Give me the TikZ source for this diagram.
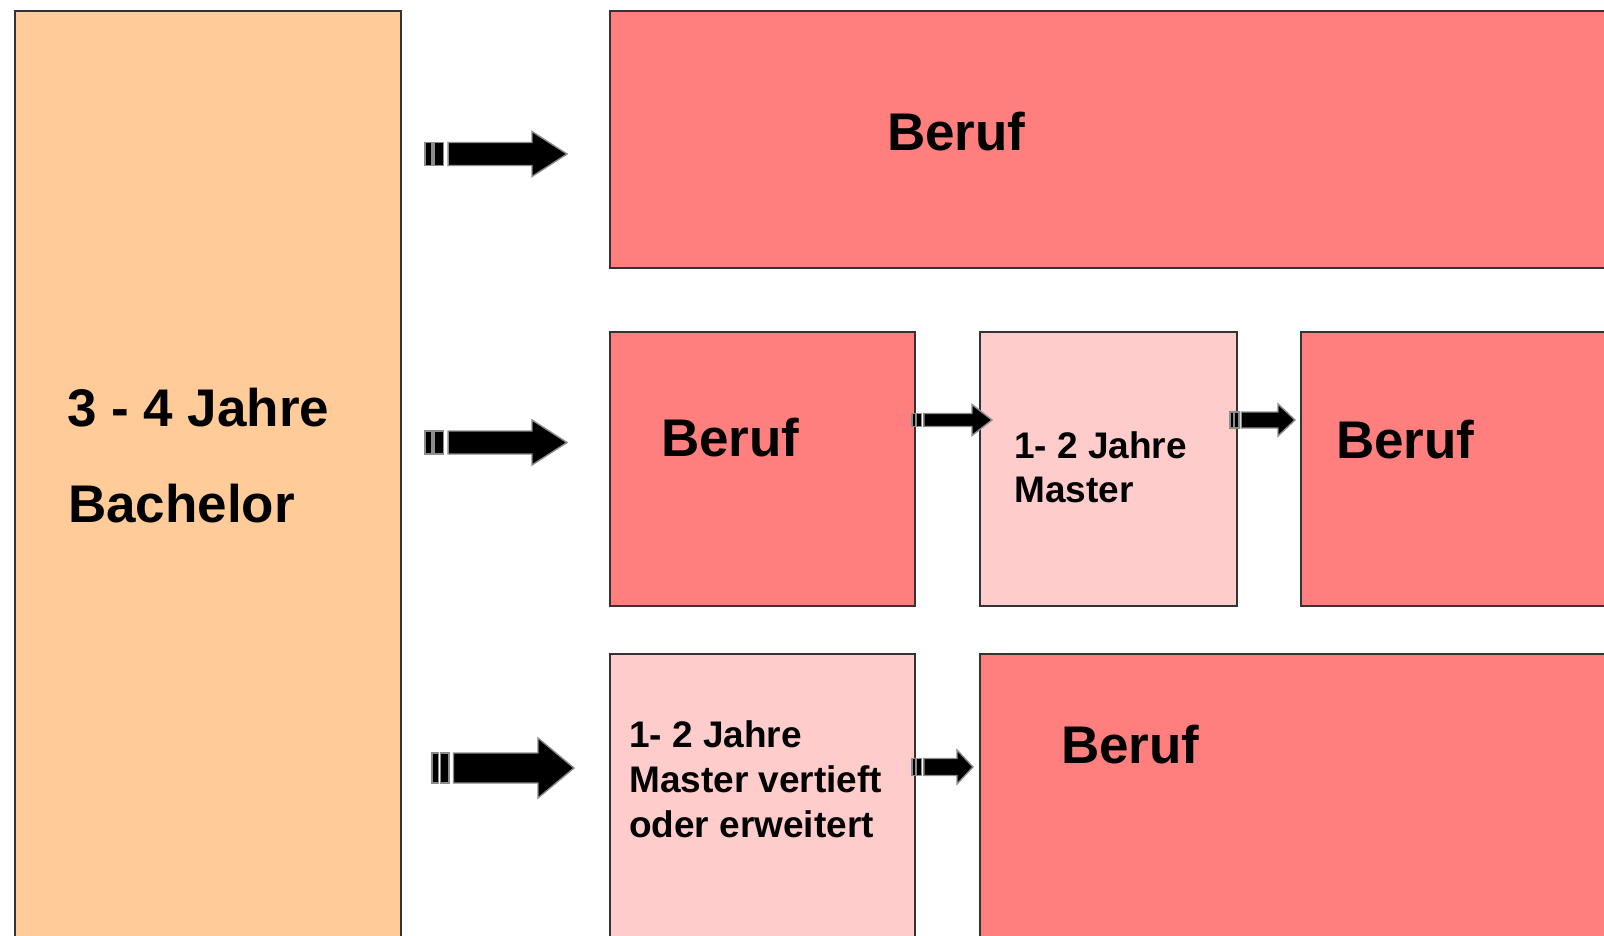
\documentclass[tikz,border=0pt]{standalone}
\usepackage{fontspec}
\setmainfont{Liberation Sans}
\definecolor{bachfill}{HTML}{FFCC99}
\definecolor{berufred}{HTML}{FF7F7F}
\definecolor{masterpink}{HTML}{FFCCCC}
\definecolor{edgegray}{HTML}{333333}
\definecolor{arrowedge}{HTML}{8C8C8C}
\newcommand\blockarrow[7]{%
  \draw[arrowpart] (#1,#2-#5) rectangle (#1+#7,#2+#5);
  \draw[arrowpart] (#1+1.3*#7,#2-#5) rectangle (#1+2.6*#7,#2+#5);
  \draw[arrowpart] (#1+3.3*#7,#2-#5) -- (#3,#2-#5) -- (#3,#2-#6) -- (#4,#2)
     -- (#3,#2+#6) -- (#3,#2+#5) -- (#1+3.3*#7,#2+#5) -- cycle;
}
\begin{document}
\begin{tikzpicture}[x=1pt,y=-1pt,
  box/.style={draw=edgegray,line width=1.8pt,anchor=north west,inner sep=0pt},
  bach/.style={box,fill=bachfill},
  beruf/.style={box,fill=berufred},
  master/.style={box,fill=masterpink},
  bigtxt/.style={anchor=base west,inner sep=0pt,font=\fontsize{53}{60}\selectfont\bfseries},
  smalltxt/.style={anchor=base west,inner sep=0pt,font=\fontsize{37}{44}\selectfont\bfseries},
  arrowpart/.style={fill=black,draw=arrowedge,line width=1.4pt,line join=miter}]
\useasboundingbox (0,0) rectangle (1604,935);
\clip (0,0) rectangle (1604,935);
\fill[white] (0,0) rectangle (1604,935);
% boxes
\node[bach,minimum width=386pt,minimum height=960pt] (bachelor) at (14,10) {};
\node[beruf,minimum width=1020pt,minimum height=257pt] (top) at (609,10) {};
\node[beruf,minimum width=305pt,minimum height=274pt] (r2a) at (609,331) {};
\node[master,minimum width=257pt,minimum height=274pt] (r2m) at (979,331) {};
\node[beruf,minimum width=320pt,minimum height=274pt] (r2b) at (1300,331) {};
\node[master,minimum width=305pt,minimum height=320pt] (r3m) at (609,653) {};
\node[beruf,minimum width=660pt,minimum height=320pt] (r3b) at (979,653) {};
% texts
\node[bigtxt] (t1) at (67,426) {3 - 4 Jahre};
\node[bigtxt] (t2) at (68,522) {Bachelor};
\node[bigtxt] (t3) at (887,150) {Beruf};
\node[bigtxt] (t4) at (661,456) {Beruf};
\node[bigtxt] (t5) at (1336,458) {Beruf};
\node[bigtxt] (t6) at (1061,763) {Beruf};
\node[smalltxt] (t7) at (1014,458) {1- 2 Jahre};
\node[smalltxt] (t8) at (1014,502) {Master};
\node[smalltxt] (t9) at (629,747) {1- 2 Jahre};
\node[smalltxt] (t10) at (629,792) {Master vertieft};
\node[smalltxt] (t11) at (629,837) {oder erweitert};
% arrows
\blockarrow{425}{154}{532}{567}{11.5}{22.5}{7}
\blockarrow{425}{442.5}{532}{567}{11.5}{22.5}{7}
\blockarrow{432}{768}{538}{574}{15}{30}{6.5}
\blockarrow{912}{420}{972}{992}{6.5}{15.5}{3.6}
\blockarrow{1230}{420}{1278}{1295}{8}{16}{3.4}
\blockarrow{912}{767}{957}{973}{8.5}{17}{3.6}
\end{tikzpicture}
\end{document}
